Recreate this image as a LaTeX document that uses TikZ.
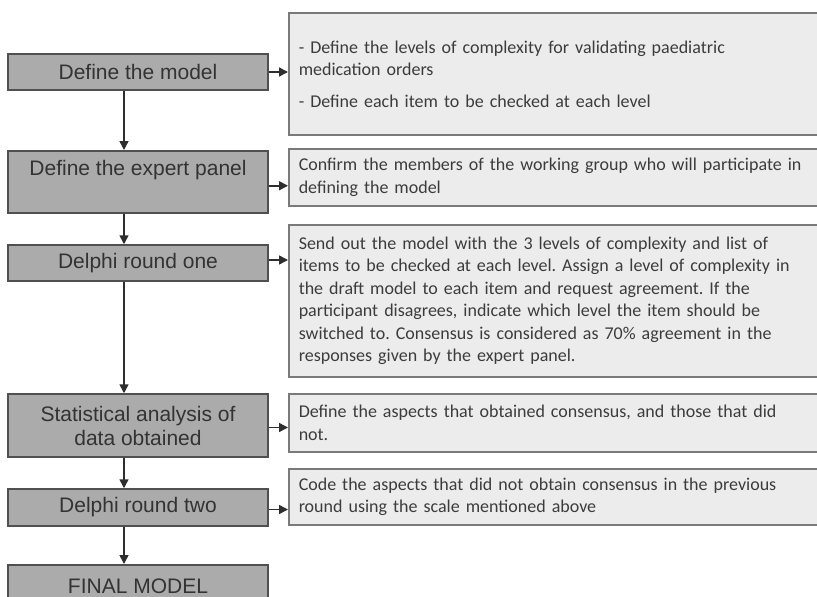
\documentclass[tikz,border=0pt]{standalone}
\usepackage{fontspec}
\setmainfont{Liberation Sans}
\newfontfamily\calib{Carlito}
\usetikzlibrary{arrows.meta}
\definecolor{lfill}{HTML}{ABABAB}
\definecolor{ldraw}{HTML}{505050}
\definecolor{rfill}{HTML}{ECECEC}
\definecolor{rdraw}{HTML}{7A7A7A}
\definecolor{ltext}{HTML}{333333}
\definecolor{rtext}{HTML}{3C3C3C}
\definecolor{arrc}{HTML}{2E2E2E}
\frenchspacing
\tikzset{
  lbox/.style={draw=ldraw, fill=lfill, line width=1.5pt, minimum width=260pt,
    inner sep=0pt, text=ltext, align=center,
    font=\fontsize{21}{24}\selectfont},
  rbox/.style={draw=rdraw, fill=rfill, line width=1.5pt, anchor=west,
    text width=520pt, inner xsep=10pt, inner ysep=0pt, align=left, text=rtext,
    font=\calib\fontsize{18}{22.5}\selectfont},
  arr/.style={draw=arrc, line width=1.5pt, -{Triangle[length=9pt,width=9pt]}}
}
\begin{document}
\begin{tikzpicture}[x=1pt,y=-1pt]
\useasboundingbox (0,0) rectangle (817,597);
\clip (0,0) rectangle (817,597);
\fill[white] (0,0) rectangle (817,597);
% left boxes
\node[lbox, minimum height=36pt] (b1) at (138,72) {Define the model};
\node[lbox, anchor=north, text height=25pt, text depth=37pt] (b2) at (138,150) {Define the expert panel};
\node[lbox, minimum height=36pt] (b3) at (138,263) {Delphi round one};
\node[lbox, minimum height=63pt] (b4) at (138,425.5) {Statistical analysis of\\data obtained};
\node[lbox, minimum height=37pt] (b5) at (138,507.5) {Delphi round two};
\node[lbox, anchor=north, minimum height=40pt, text height=15pt, text depth=0pt, inner ysep=0pt] (b6) at (138,564) {\raisebox{-1pt}{FINAL MODEL}};
% right boxes
\node[rbox, minimum height=122pt] (r1) at (288,74) {- Define the levels of complexity for validating paediatric\\medication orders\\[9pt]- Define each item to be checked at each level};
\node[rbox, minimum height=57pt] (r2) at (288,177.5) {Confirm the members of the working group who will participate in\\defining the model};
\node[rbox, minimum height=152pt] (r3) at (288,301) {Send out the model with the 3 levels of complexity and list of\\items to be checked at each level. Assign a level of complexity in\\the draft model to each item and request agreement. If the\\participant disagrees, indicate which level the item should be\\switched to. Consensus is considered as 70\% agreement in the\\responses given by the expert panel.};
\node[rbox, minimum height=58pt] (r4) at (288,423) {Define the aspects that obtained consensus, and those that did\\not.};
\node[rbox, minimum height=56pt] (r5) at (288,497) {Code the aspects that did not obtain consensus in the previous\\round using the scale mentioned above};
% arrows
\coordinate (ax) at (124,0);
\draw[arr] (b1.south -| ax) -- (b2.north -| ax);
\draw[arr] (b2.south -| ax) -- (b3.north -| ax);
\draw[arr] (b3.south -| ax) -- (b4.north -| ax);
\draw[arr] (b4.south -| ax) -- (b5.north -| ax);
\draw[arr] (b5.south -| ax) -- (b6.north -| ax);
\draw[arr] (b1.east) -- (b1.east -| r1.west);
\draw[arr] ([yshift=-4pt]b2.east) -- ([yshift=-4pt]b2.east -| r2.west);
\draw[arr] ([yshift=3pt]b3.east) -- ([yshift=3pt]b3.east -| r3.west);
\draw[arr] ([yshift=-2pt]b4.east) -- ([yshift=-2pt]b4.east -| r4.west);
\draw[arr] ([yshift=-2pt]b5.east) -- ([yshift=-2pt]b5.east -| r5.west);
\end{tikzpicture}
\end{document}
